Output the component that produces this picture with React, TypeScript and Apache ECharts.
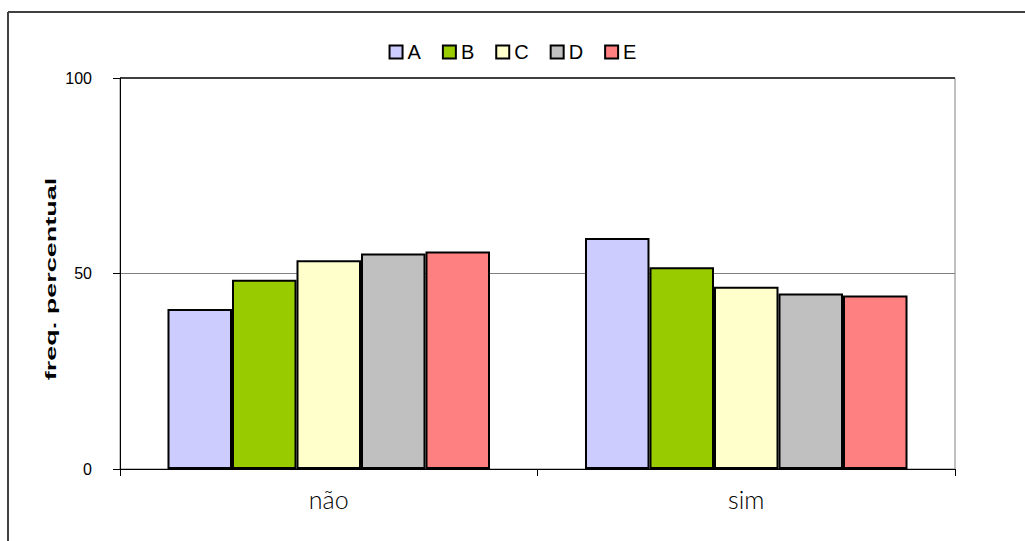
import React, { useEffect, useRef } from "react";
import * as echarts from "echarts";

const categories = ["não", "sim"];
const seriesNames = ["A", "B", "C", "D", "E"];
const seriesColors = ["#CCCCFF", "#99CC00", "#FFFFCC", "#C0C0C0", "#FF8080"];
const valuesA = [40.9, 59.1];
const valuesB = [48.4, 51.6];
const valuesC = [53.4, 46.6];
const valuesD = [55.1, 44.9];
const valuesE = [55.6, 44.4];
const seriesValues = [valuesA, valuesB, valuesC, valuesD, valuesE];
const yTicks = [0, 50, 100];
const yAxisTitle = "freq. percentual";

export default function App() {
  const ref = useRef<HTMLDivElement>(null);
  useEffect(() => {
    if (!ref.current) return;
    const chart = echarts.init(ref.current, undefined, { renderer: "svg" });
    chart.setOption({
      animation: false,
      backgroundColor: "#ffffff",
      legend: {
        top: 37,
        left: "center",
        itemWidth: 13,
        itemHeight: 13,
        itemGap: 21,
        icon: "rect",
        textStyle: { fontFamily: "Arial, Liberation Sans", fontSize: 20, color: "#000" },
        data: seriesNames,
      },
      grid: {
        left: 120,
        right: 70,
        top: 78,
        bottom: 72,
        show: true,
        borderColor: "#808080",
        borderWidth: 1,
        backgroundColor: "transparent",
      },
      xAxis: {
        type: "category",
        data: categories,
        axisLine: { lineStyle: { color: "#000", width: 1 } },
        axisTick: { show: true, length: 7, inside: false, lineStyle: { color: "#000" } },
        axisLabel: { fontFamily: "Lato, DejaVu Sans", fontWeight: 300, fontSize: 25, color: "#000", margin: 17 },
      },
      yAxis: {
        type: "value",
        min: yTicks[0],
        max: yTicks[yTicks.length - 1],
        interval: 50,
        axisLine: { show: true, lineStyle: { color: "#000", width: 1 } },
        axisTick: { show: true, length: 7, lineStyle: { color: "#000" } },
        axisLabel: { fontFamily: "Arial, Liberation Sans", fontSize: 16, color: "#000", margin: 28 },
        splitLine: { show: true, lineStyle: { color: ["#000", "#808080", "#404040"], width: 1 } },
      },
      series: seriesNames.map((name, i) => ({
        name,
        type: "bar",
        data: seriesValues[i],
        barGap: "0%",
        barCategoryGap: "22.75%",
        itemStyle: { color: seriesColors[i], borderColor: "#000", borderWidth: 2 },
      })),
      graphic: [
        { type: "line", shape: { x1: 8, y1: 12, x2: 1025, y2: 12 }, style: { stroke: "#404040", lineWidth: 2 } },
        { type: "line", shape: { x1: 8, y1: 12, x2: 8, y2: 541 }, style: { stroke: "#404040", lineWidth: 2 } },
        { type: "line", shape: { x1: 120, y1: 78, x2: 955, y2: 78 }, style: { stroke: "#404040", lineWidth: 2 } },
        {
          type: "text",
          x: 51,
          y: 279,
          rotation: Math.PI / 2,
          scaleX: 1.8,
          style: {
            text: yAxisTitle,
            fontFamily: "Arial, Liberation Sans",
            fontWeight: "bold",
            fontSize: 15,
            fill: "#000",
            align: "center",
            verticalAlign: "middle",
          },
        },
      ],
    });
    return () => chart.dispose();
  }, []);
  return <div ref={ref} style={{ width: 1025, height: 541, position: "absolute", left: 0, top: 0 }} />;
}
